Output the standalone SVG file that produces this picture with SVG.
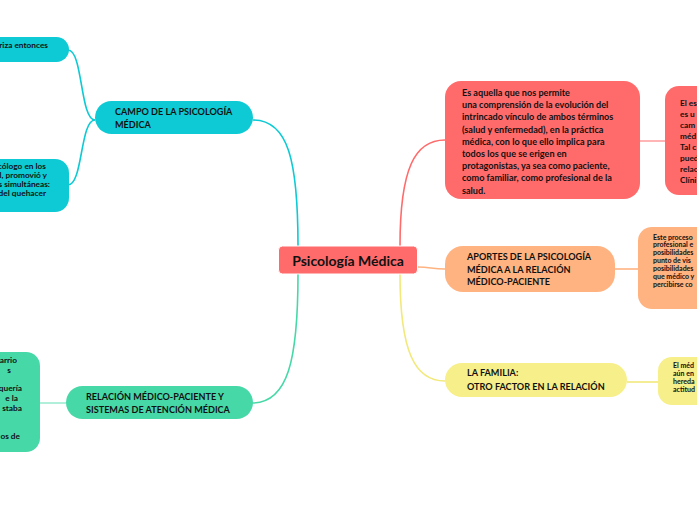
<svg xmlns="http://www.w3.org/2000/svg" width="697" height="520" viewBox="0 0 697 520">
<style>
text{font-family:Lato,"Open Sans","Liberation Sans",sans-serif;font-weight:bold;fill:#111}
.t9{font-size:9.1px}
.t8{font-size:8.3px}
.t7{font-size:7px}
.h{font-size:9.1px}
.c{stroke-width:1.6;fill:none}
</style>
<rect width="697" height="520" fill="#fff"/>
<g id="connectors">
<path class="c" stroke="#0ECAD4" d="M253,120 C288,120 298,160 298,246"/>
<path class="c" stroke="#47D8A8" d="M252,403 C288,403 298,360 298,274"/>
<path class="c" stroke="#FF6B6B" d="M400,246 C400,168 415,140 445,140"/>
<path class="c" stroke="#FFB380" d="M418,267 C430,267 432,269 445,269"/>
<path class="c" stroke="#F2E97A" d="M400,274 C400,352 415,381 445,381"/>
<path class="c" stroke="#0ECAD4" d="M95,120 C80,120 83,50 68,50"/>
<path class="c" stroke="#0ECAD4" d="M95,120 C80,120 83,185 68,185"/>
<path class="c" stroke="#9EEBD2" d="M66,403 L40,403"/>
<path class="c" stroke="#FFA3A3" d="M640,141 L665,141"/>
<path class="c" stroke="#FFB380" d="M615,269 L638,269"/>
<path class="c" stroke="#F2E97A" d="M627,382 L658,382"/>
</g>
<g id="center">
<rect x="278.5" y="246" width="139" height="28" rx="4" fill="#FF6B6B" stroke="#fff" stroke-width="1"/>
<text x="348" y="265.5" text-anchor="middle" style="font-size:14px">Psicología Médica</text>
</g>
<g id="campo">
<rect x="95" y="101" width="158" height="33" rx="16.5" fill="#0ECAD4"/>
<text class="h" x="115" y="114.5">CAMPO DE LA PSICOLOGÍA</text>
<text class="h" x="115" y="127.5">MÉDICA</text>
</g>
<g id="campo-a">
<rect x="-40" y="37" width="109" height="25" rx="12.5" fill="#0ECAD4"/>
<text class="t8" x="48" y="48" text-anchor="end">eriza entonces</text>
</g>
<g id="campo-b">
<rect x="-40" y="159" width="109" height="53" rx="14" fill="#0ECAD4"/>
<text class="t8" x="46" y="169" text-anchor="end">cólogo en los</text>
<text class="t8" x="47" y="178" text-anchor="end">d, promovió y</text>
<text class="t8" x="50" y="187" text-anchor="end">s simultáneas:</text>
<text class="t8" x="46" y="196" text-anchor="end">n del quehacer</text>
</g>
<g id="relacion">
<rect x="66" y="386" width="187" height="33" rx="16.5" fill="#47D8A8"/>
<text class="h" x="86" y="399.5">RELACIÓN MÉDICO-PACIENTE Y</text>
<text class="h" x="86" y="412.5">SISTEMAS DE ATENCIÓN MÉDICA</text>
</g>
<g id="relacion-a">
<rect x="-40" y="352" width="80" height="100" rx="14" fill="#47D8A8"/>
<text class="t8" x="17" y="363" text-anchor="end">arrio</text>
<text class="t8" x="11" y="373" text-anchor="end">s</text>
<text class="t8" x="22" y="391" text-anchor="end">quería</text>
<text class="t8" x="18" y="401" text-anchor="end">e la</text>
<text class="t8" x="22" y="411" text-anchor="end">staba</text>
<text class="t8" x="20" y="439" text-anchor="end">os de</text>
</g>
<g id="definicion">
<rect x="445" y="81" width="195" height="118" rx="16" fill="#FF6B6B"/>
<text class="t9" x="462" y="96">Es aquella que nos permite</text>
<text class="t9" x="462" y="108.2">una comprensión de la evolución del</text>
<text class="t9" x="462" y="120.4">intrincado  vínculo de ambos términos</text>
<text class="t9" x="462" y="132.6">(salud y enfermedad), en la práctica</text>
<text class="t9" x="462" y="144.8">médica, con lo que ello implica para</text>
<text class="t9" x="462" y="157">todos los que se erigen en</text>
<text class="t9" x="462" y="169.2">protagonistas, ya sea como paciente,</text>
<text class="t9" x="462" y="181.4">como familiar, como profesional de la</text>
<text class="t9" x="462" y="193.6">salud.</text>
</g>
<g id="definicion-a">
<rect x="665" y="86" width="80" height="109" rx="14" fill="#FF6B6B"/>
<text class="t8" x="680" y="106">El es</text>
<text class="t8" x="680" y="117">es u</text>
<text class="t8" x="680" y="128">cam</text>
<text class="t8" x="680" y="139">méd</text>
<text class="t8" x="680" y="150">Tal c</text>
<text class="t8" x="680" y="161">pued</text>
<text class="t8" x="680" y="172">relac</text>
<text class="t8" x="680" y="183">Clíni</text>
</g>
<g id="aportes">
<rect x="445" y="246" width="170" height="46" rx="18" fill="#FFB380"/>
<text class="h" x="467" y="260">APORTES DE LA PSICOLOGÍA</text>
<text class="h" x="467" y="272.5">MÉDICA A LA RELACIÓN</text>
<text class="h" x="467" y="285">MÉDICO-PACIENTE</text>
</g>
<g id="aportes-a">
<rect x="638" y="227" width="80" height="82" rx="14" fill="#FFB380"/>
<text class="t7" x="653" y="239.5">Este proceso</text>
<text class="t7" x="653" y="247.4">profesional e</text>
<text class="t7" x="653" y="255.3">posibilidades</text>
<text class="t7" x="653" y="263.2">punto de vis</text>
<text class="t7" x="653" y="271.1">posibilidades</text>
<text class="t7" x="653" y="279">que médico y</text>
<text class="t7" x="653" y="286.9">percibirse co</text>
</g>
<g id="familia">
<rect x="445" y="363" width="182" height="34" rx="17" fill="#F7EF8A"/>
<text class="h" x="467" y="376">LA FAMILIA:</text>
<text class="h" x="467" y="390">OTRO FACTOR EN LA RELACIÓN</text>
</g>
<g id="familia-a">
<rect x="658" y="357" width="80" height="48" rx="14" fill="#F7EF8A"/>
<text class="t7" x="673" y="367.5">El méd</text>
<text class="t7" x="673" y="375.5">aún en</text>
<text class="t7" x="673" y="383.5">hereda</text>
<text class="t7" x="673" y="391.5">actitud</text>
</g>
</svg>
